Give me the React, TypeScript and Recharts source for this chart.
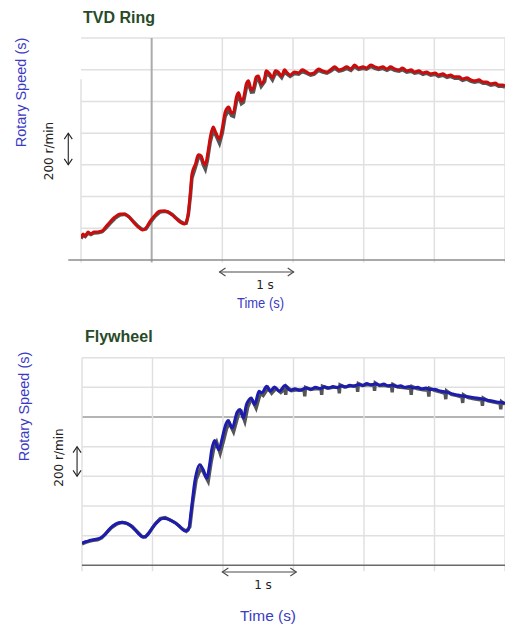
import { LineChart, Line, XAxis, YAxis, ReferenceLine } from 'recharts'

// ── Data (time in s, rotary speed in r/min above the baseline) ─────────────────

const X_TICKS = [0, 1, 2, 3, 4, 5, 6]
const Y_TICKS = [0, 200, 400, 600, 800, 1000, 1200, 1400]

// TVD Ring
const RING_T = [
  0.0, 0.03, 0.06, 0.1, 0.14, 0.18, 0.24, 0.3, 0.35, 0.41,
  0.48, 0.55, 0.62, 0.68, 0.74, 0.81, 0.87, 0.92, 0.98, 1.05,
  1.12, 1.18, 1.23, 1.29, 1.35, 1.4, 1.46, 1.49, 1.52, 1.55,
  1.57, 1.62, 1.66, 1.7, 1.73, 1.76, 1.79, 1.83, 1.87, 1.91,
  1.96, 2.0, 2.04, 2.09, 2.13, 2.16, 2.2, 2.23, 2.27, 2.3,
  2.34, 2.37, 2.41, 2.44, 2.48, 2.51, 2.55, 2.6, 2.62, 2.67,
  2.71, 2.75, 2.79, 2.84, 2.88, 2.92, 2.96, 3.02, 3.08, 3.13,
  3.19, 3.25, 3.3, 3.36, 3.42, 3.48, 3.53, 3.59, 3.65, 3.7,
  3.76, 3.82, 3.87, 3.93, 3.99, 4.04, 4.1, 4.16, 4.21, 4.27,
  4.33, 4.38, 4.44, 4.5, 4.55, 4.61, 4.67, 4.72, 4.78, 4.84,
  4.89, 4.95, 5.01, 5.06, 5.12, 5.18, 5.23, 5.29, 5.35, 5.4,
  5.46, 5.52, 5.57, 5.63, 5.69, 5.74, 5.8, 5.86, 5.91, 5.97,
  6.0,
]
const RING_MEASURED = [
  139, 164, 151, 177, 164, 177, 177, 183, 208, 240,
  271, 290, 290, 271, 240, 208, 189, 202, 246, 284,
  309, 309, 303, 284, 259, 240, 227, 240, 303, 442,
  543, 606, 663, 656, 618, 600, 663, 776, 839, 801,
  764, 833, 934, 965, 927, 934, 1029, 1054, 1003, 1022,
  1111, 1130, 1073, 1085, 1155, 1161, 1111, 1149, 1193, 1174,
  1149, 1193, 1186, 1161, 1199, 1180, 1167, 1186, 1180, 1199,
  1186, 1174, 1180, 1205, 1193, 1186, 1199, 1218, 1199, 1205,
  1218, 1205, 1230, 1211, 1218, 1211, 1230, 1218, 1211, 1218,
  1205, 1218, 1205, 1199, 1211, 1193, 1199, 1186, 1193, 1180,
  1186, 1174, 1180, 1167, 1174, 1161, 1167, 1155, 1155, 1142,
  1149, 1136, 1130, 1136, 1123, 1123, 1111, 1117, 1104, 1104,
  1098,
]
const RING_SIMULATED = [
  135, 155, 148, 170, 160, 170, 172, 178, 200, 230,
  262, 283, 288, 272, 244, 212, 192, 196, 236, 276,
  303, 307, 303, 287, 263, 245, 230, 232, 285, 410,
  515, 585, 645, 645, 600, 572, 630, 745, 815, 785,
  735, 800, 905, 945, 910, 905, 1000, 1035, 985, 995,
  1085, 1110, 1058, 1060, 1135, 1145, 1095, 1125, 1175, 1162,
  1135, 1175, 1175, 1150, 1185, 1170, 1158, 1175, 1172, 1188,
  1178, 1165, 1172, 1195, 1185, 1178, 1190, 1208, 1190, 1195,
  1208, 1196, 1220, 1202, 1208, 1203, 1220, 1208, 1202, 1208,
  1196, 1208, 1196, 1190, 1200, 1184, 1190, 1178, 1184, 1171,
  1178, 1165, 1171, 1158, 1165, 1152, 1158, 1146, 1146, 1133,
  1140, 1127, 1121, 1127, 1114, 1114, 1102, 1108, 1095, 1095,
  1090,
]

// Flywheel
const FLY_T = [
  0.0, 0.04, 0.08, 0.11, 0.16, 0.2, 0.25, 0.32, 0.4, 0.47,
  0.54, 0.61, 0.68, 0.76, 0.82, 0.87, 0.93, 1.01, 1.08, 1.15,
  1.21, 1.29, 1.38, 1.46, 1.51, 1.55, 1.6, 1.67, 1.72, 1.77,
  1.81, 1.84, 1.88, 1.94, 1.99, 2.03, 2.07, 2.13, 2.2, 2.24,
  2.29, 2.33, 2.37, 2.4, 2.45, 2.51, 2.55, 2.62, 2.67, 2.73,
  2.8, 2.88, 2.95, 3.02, 3.09, 3.18, 3.25, 3.31, 3.38, 3.44,
  3.5, 3.56, 3.62, 3.68, 3.74, 3.8, 3.86, 3.92, 3.98, 4.04,
  4.1, 4.16, 4.22, 4.28, 4.34, 4.4, 4.46, 4.52, 4.58, 4.64,
  4.7, 4.76, 4.82, 4.88, 4.94, 5.0, 5.06, 5.12, 5.18, 5.24,
  5.3, 5.36, 5.42, 5.48, 5.54, 5.6, 5.66, 5.72, 5.78, 5.84,
  5.9, 5.96, 6.0,
]
const FLY_MEASURED = [
  149, 158, 163, 168, 172, 176, 182, 205, 250, 276,
  288, 287, 272, 236, 205, 189, 205, 261, 297, 318,
  313, 295, 265, 232, 239, 374, 565, 678, 644, 588,
  680, 779, 842, 779, 860, 937, 977, 926, 1032, 1050,
  994, 1080, 1117, 1129, 1084, 1174, 1163, 1207, 1174, 1203,
  1174, 1212, 1180, 1190, 1180, 1196, 1188, 1200, 1192, 1204,
  1196, 1206, 1198, 1210, 1203, 1214, 1207, 1220, 1212, 1226,
  1216, 1224, 1215, 1222, 1210, 1216, 1205, 1210, 1200, 1206,
  1196, 1200, 1190, 1195, 1185, 1188, 1178, 1172, 1166, 1158,
  1150, 1146, 1140, 1136, 1132, 1128, 1124, 1116, 1112, 1106,
  1100, 1098, 1093,
]
const FLY_SIM_T = [
  0.0, 0.06, 0.11, 0.16, 0.22, 0.28, 0.35, 0.42, 0.5, 0.57,
  0.64, 0.71, 0.78, 0.85, 0.9, 0.96, 1.04, 1.11, 1.18, 1.25,
  1.33, 1.41, 1.48, 1.53, 1.57, 1.62, 1.69, 1.74, 1.79, 1.83,
  1.87, 1.91, 1.96, 2.01, 2.05, 2.09, 2.15, 2.22, 2.26, 2.31,
  2.35, 2.39, 2.42, 2.47, 2.53, 2.57, 2.64, 2.69, 2.75, 2.82,
  2.88, 2.89, 2.9, 2.97, 3.05, 3.15, 3.16, 3.17, 3.24, 3.32,
  3.39, 3.4, 3.41, 3.48, 3.56, 3.64, 3.65, 3.66, 3.72, 3.8,
  3.9, 3.91, 3.92, 3.98, 4.06, 4.14, 4.15, 4.16, 4.22, 4.3,
  4.39, 4.4, 4.41, 4.48, 4.56, 4.66, 4.67, 4.68, 4.75, 4.84,
  4.91, 4.92, 4.93, 5.0, 5.08, 5.15, 5.16, 5.17, 5.24, 5.32,
  5.39, 5.4, 5.41, 5.48, 5.56, 5.67, 5.68, 5.69, 5.76, 5.84,
  5.93, 5.94, 5.95, 6.0,
]
const FLY_SIMULATED = [
  145, 156, 163, 168, 172, 185, 220, 255, 280, 290,
  282, 262, 228, 195, 192, 225, 280, 315, 322, 305,
  285, 250, 230, 260, 420, 580, 660, 610, 565, 690,
  790, 830, 755, 845, 920, 960, 900, 1020, 1035, 970,
  1065, 1110, 1110, 1060, 1160, 1145, 1195, 1160, 1192, 1165,
  1190, 1150, 1205, 1178, 1184, 1180, 1140, 1200, 1186, 1192,
  1190, 1150, 1208, 1194, 1200, 1200, 1160, 1216, 1202, 1208,
  1212, 1170, 1226, 1212, 1218, 1216, 1176, 1230, 1212, 1212,
  1206, 1166, 1220, 1202, 1198, 1192, 1150, 1206, 1192, 1184,
  1180, 1138, 1194, 1180, 1170, 1160, 1120, 1176, 1152, 1144,
  1135, 1095, 1150, 1130, 1122, 1115, 1075, 1128, 1108, 1100,
  1092, 1052, 1104, 1086,
]

const zip = (ts: number[], vs: number[]) => ts.map((t, i) => ({ t, v: vs[i] }))

// ── Styling ───────────────────────────────────────────────────────────────────

const GRID = '#e0e0e0'
const LABEL_BLUE = '#3a3ac4'
const TITLE_GREEN = '#284a28'
const SANS = '"Liberation Sans", Arial, sans-serif'
const NOTE = '"DejaVu Sans", sans-serif'

// ── Double-headed arrow used as a ReferenceLine shape ─────────────────────────

function DoubleArrow(props: any) {
  const { x1, y1, x2, y2, stroke } = props
  const dx = x2 - x1
  const dy = y2 - y1
  const len = Math.hypot(dx, dy) || 1
  const ux = dx / len
  const uy = dy / len
  const h = 6
  const w = 4
  const head = (x: number, y: number, s: number) =>
    `${x + s * ux * h - uy * w},${y + s * uy * h + ux * w} ${x},${y} ${x + s * ux * h + uy * w},${y + s * uy * h - ux * w}`
  return (
    <g stroke={stroke} strokeWidth={1.1} fill="none">
      <line x1={x1} y1={y1} x2={x2} y2={y2} />
      <polyline points={head(x1, y1, 1)} />
      <polyline points={head(x2, y2, -1)} />
    </g>
  )
}

// ── Panel ─────────────────────────────────────────────────────────────────────

interface PanelProps {
  top: number
  height: number
  margin: { top: number; right: number; bottom: number; left: number }
  measured: { t: number; v: number }[]
  simulated: { t: number; v: number }[]
  color: string
  axisFrom: number
  axisColor: string
  darkX?: number
  darkY?: number
  leftEdgeTop: number
  gridBelow: number
  spanArrow: [number, number, number]
  scaleArrowX: number
}

function Panel(p: PanelProps) {
  return (
    <div style={{ position: 'absolute', left: 0, top: p.top }}>
      <LineChart width={505} height={p.height} margin={p.margin}>
        <XAxis type="number" dataKey="t" domain={[0, 6]} ticks={X_TICKS} hide allowDataOverflow />
        <YAxis type="number" domain={[0, 1400]} ticks={Y_TICKS} hide allowDataOverflow />
        {Y_TICKS.slice(1).map((v) => (
          <ReferenceLine
            key={`h${v}`}
            y={v}
            stroke={v === p.darkY ? '#b4b4b4' : GRID}
            strokeWidth={v === p.darkY ? 2 : 1.5}
          />
        ))}
        {X_TICKS.map((t) => (
          <ReferenceLine
            key={`v${t}`}
            segment={[
              { x: t, y: p.gridBelow },
              { x: t, y: t === 0 ? p.leftEdgeTop : 1400 },
            ]}
            stroke={t === p.darkX ? '#ababab' : GRID}
            strokeWidth={t === p.darkX ? 2 : 1.5}
            ifOverflow="visible"
          />
        ))}
        <ReferenceLine
          segment={[
            { x: p.axisFrom, y: 0 },
            { x: 6, y: 0 },
          ]}
          stroke={p.axisColor}
          strokeWidth={1.6}
          ifOverflow="visible"
        />
        <ReferenceLine
          segment={[
            { x: p.spanArrow[0], y: p.spanArrow[2] },
            { x: p.spanArrow[1], y: p.spanArrow[2] },
          ]}
          stroke="#4a4a4a"
          ifOverflow="visible"
          shape={(s: any) => <DoubleArrow {...s} />}
        />
        <ReferenceLine
          segment={[
            { x: p.scaleArrowX, y: 800 },
            { x: p.scaleArrowX, y: 600 },
          ]}
          stroke="#222"
          ifOverflow="visible"
          shape={(s: any) => <DoubleArrow {...s} />}
        />
        <Line
          data={p.simulated}
          dataKey="v"
          type="linear"
          stroke="#555555"
          strokeWidth={3.4}
          dot={false}
          isAnimationActive={false}
        />
        <Line
          data={p.measured}
          dataKey="v"
          type="monotone"
          stroke={p.color}
          strokeWidth={3}
          dot={false}
          isAnimationActive={false}
        />
      </LineChart>
    </div>
  )
}

// ── App ───────────────────────────────────────────────────────────────────────

export default function App() {
  return (
    <div style={{ position: 'absolute', left: 0, top: 0, width: 505, height: 628, background: '#fff' }}>
      <Panel
        top={0}
        height={300}
        margin={{ top: 38, right: 0, bottom: 40, left: 81 }}
        measured={zip(RING_T, RING_MEASURED)}
        simulated={zip(RING_T, RING_SIMULATED)}
        color="#cc0c0c"
        axisFrom={-0.18}
        axisColor="#8c8c8c"
        darkX={1}
        leftEdgeTop={1140}
        gridBelow={-15}
        spanArrow={[1.96, 3.01, -76]}
        scaleArrowX={-0.18}
      />
      <Panel
        top={320}
        height={300}
        margin={{ top: 37.7, right: 0, bottom: 54.7, left: 82 }}
        measured={zip(FLY_T, FLY_MEASURED)}
        simulated={zip(FLY_SIM_T, FLY_SIMULATED)}
        color="#1c1cae"
        axisFrom={0}
        axisColor="#6a6a6a"
        darkY={1000}
        leftEdgeTop={1400}
        gridBelow={-40}
        spanArrow={[1.99, 3.04, -45]}
        scaleArrowX={-0.07}
      />
      <svg
        width={505}
        height={628}
        style={{ position: 'absolute', left: 0, top: 0, pointerEvents: 'none' }}
      >
        <text x={83} y={23} fontFamily={SANS} fontWeight="bold" fontSize={16} fill={TITLE_GREEN}>
          TVD Ring
        </text>
        <text x={85} y={342} fontFamily={SANS} fontWeight="bold" fontSize={16} fill={TITLE_GREEN}>
          Flywheel
        </text>

        <text
          transform="translate(25.5,92.5) rotate(-90)"
          textAnchor="middle"
          fontFamily={SANS}
          fontSize={14.5}
          fill={LABEL_BLUE}
        >
          Rotary Speed (s)
        </text>
        <text
          transform="translate(28.5,406.5) rotate(-90)"
          textAnchor="middle"
          fontFamily={SANS}
          fontSize={14.5}
          fill={LABEL_BLUE}
        >
          Rotary Speed (s)
        </text>

        <text transform="translate(52.5,151) rotate(-90)" textAnchor="middle" fontFamily={NOTE} fontSize={12} fill="#222">
          200 r/min
        </text>
        <text transform="translate(63,457.5) rotate(-90)" textAnchor="middle" fontFamily={NOTE} fontSize={12} fill="#222">
          200 r/min
        </text>

        <text x={265} y={289} textAnchor="middle" fontFamily={NOTE} fontSize={12} fill="#222">
          1 s
        </text>
        <text x={263} y={589} textAnchor="middle" fontFamily={NOTE} fontSize={12} fill="#222">
          1 s
        </text>

        <text
          x={237}
          y={307.5}
          textLength={47}
          lengthAdjust="spacingAndGlyphs"
          fontFamily={SANS}
          fontSize={14}
          fill={LABEL_BLUE}
        >
          Time (s)
        </text>
        <text
          x={240}
          y={620.5}
          textLength={56}
          lengthAdjust="spacingAndGlyphs"
          fontFamily={SANS}
          fontSize={15}
          fill={LABEL_BLUE}
        >
          Time (s)
        </text>
      </svg>
    </div>
  )
}
